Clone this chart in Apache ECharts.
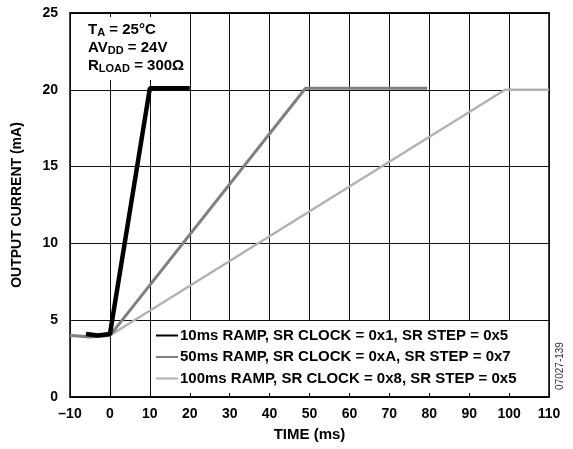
<!DOCTYPE html>
<html>
<head>
<meta charset="utf-8">
<script src="https://cdn.jsdelivr.net/npm/echarts@6/dist/echarts.min.js"></script>
<style>
  html, body { margin: 0; padding: 0; background: #fff; }
  #chart { width: 573px; height: 449px; }
</style>
</head>
<body>
<div id="chart"></div>
<script>
// 数据
const seriesNames = [
  "10ms RAMP, SR CLOCK = 0x1, SR STEP = 0x5",
  "50ms RAMP, SR CLOCK = 0xA, SR STEP = 0x7",
  "100ms RAMP, SR CLOCK = 0x8, SR STEP = 0x5",
];
const ramp10 = [[-6, 4.1], [-3, 4.0], [0, 4.1], [10, 20.1], [20, 20.1]];
const ramp50 = [[-10, 4.0], [-5, 3.9], [0, 4.0], [49, 20.1], [79.5, 20.1]];
const ramp100 = [[-10, 4.0], [-5, 3.95], [0, 4.0], [99, 20.0], [110, 20.0]];
const lineColors = ["#000000", "#808080", "#b2b2b2"];
const lineWidths = [4.5, 3, 2.5];

const chartInstance = echarts.init(document.getElementById("chart"));

const fontName = "Arial, 'Liberation Sans', sans-serif";
const labelFont = {
  fontFamily: fontName,
  fontWeight: "bold",
  fontSize: 14,
  color: "#000",
};

const allData = [ramp10, ramp50, ramp100];
const seriesArr = allData.map((data, index) => {
  return {
    name: seriesNames[index],
    type: "line",
    data: data,
    symbol: "none",
    xAxisIndex: 0,
    lineStyle: { color: lineColors[index], width: lineWidths[index] },
    itemStyle: { color: lineColors[index] },
    z: 5 - index,
  };
});

// 顶部/底部的刻度轴
const tickAxis = (pos) => ({
  type: "value",
  min: -10,
  max: 110,
  interval: 10,
  position: pos,
  z: 3,
  axisLine: { show: true, lineStyle: { color: "#000", width: 1.5 } },
  axisTick: { show: true, inside: true, length: 4, lineStyle: { color: "#000" } },
  axisLabel: { show: false },
  splitLine: { show: false },
});

const option = {
  animation: false,
  grid: {
    left: 70,
    right: 24,
    top: 13,
    bottom: 52,
    show: true,
    borderColor: "#000",
    borderWidth: 1.5,
  },
  legend: {
    data: seriesNames,
    orient: "vertical",
    left: 150,
    top: 323,
    itemGap: 6.5,
    itemWidth: 22,
    itemHeight: 14,
    itemStyle: { opacity: 0, borderWidth: 0 },
    textStyle: { ...labelFont, fontSize: 15, padding: [0, 0, 0, -3] },
  },
  graphic: [
    // 图例的白色底
    {
      type: "rect",
      z: 1,
      shape: { x: 152, y: 321, width: 395, height: 75 },
      style: { fill: "#fff" },
    },
    // 说明文字的白色底
    {
      type: "rect",
      z: 1,
      shape: { x: 71, y: 14, width: 116, height: 66 },
      style: { fill: "#fff" },
    },
    {
      type: "text",
      left: 88,
      top: 22,
      z: 10,
      style: {
        text:
          "{b|T}{s|A}{b| = 25°C}\n{b|AV}{s|DD}{b| = 24V}\n{b|R}{s|LOAD}{b| = 300Ω}",
        rich: {
          b: {
            fontFamily: fontName,
            fontWeight: "bold",
            fontSize: 15,
            lineHeight: 18,
            fill: "#000",
          },
          s: {
            fontFamily: fontName,
            fontWeight: "bold",
            fontSize: 11,
            lineHeight: 6,
            verticalAlign: "bottom",
            fill: "#000",
          },
        },
      },
    },
    {
      type: "text",
      x: 560,
      y: 366,
      rotation: Math.PI / 2,
      style: {
        text: "07027-139",
        fontFamily: fontName,
        fontSize: 10,
        fill: "#333",
        align: "center",
        verticalAlign: "middle",
      },
    },
  ],
  xAxis: [
    {
      type: "value",
      min: -10,
      max: 110,
      interval: 10,
      name: "TIME (ms)",
      nameLocation: "middle",
      nameGap: 30,
      nameTextStyle: { ...labelFont, fontSize: 15 },
      axisLine: { show: false },
      axisTick: { show: false },
      axisLabel: {
        ...labelFont,
        margin: 10,
        formatter: (v) => String(v).replace("-", "–"),
      },
      splitLine: { lineStyle: { color: "#111", width: 1 } },
    },
    tickAxis("bottom"),
    tickAxis("top"),
  ],
  yAxis: {
    type: "value",
    min: 0,
    max: 25,
    interval: 5,
    name: "OUTPUT CURRENT (mA)",
    nameLocation: "middle",
    nameGap: 46,
    nameTextStyle: labelFont,
    axisLine: { show: false },
    axisTick: { show: false },
    axisLabel: { ...labelFont, margin: 12 },
    splitLine: { lineStyle: { color: "#111", width: 1 } },
  },
  series: seriesArr,
};

chartInstance.setOption(option);
</script>
</body>
</html>
